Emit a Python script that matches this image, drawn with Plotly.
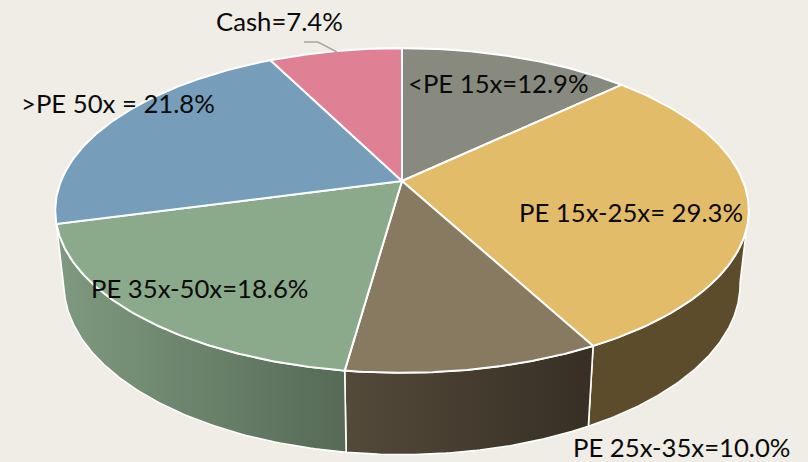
import numpy as np
import plotly.graph_objects as go

# Data, clockwise from 12 o'clock
categories = ["<PE 15x", "PE 15x-25x", "PE 25x-35x", "PE 35x-50x", ">PE 50x", "Cash"]
shares = [12.9, 29.3, 10.0, 18.6, 21.8, 7.4]
label_texts = ["<PE 15x=12.9%", "PE 15x-25x= 29.3%", "PE 25x-35x=10.0%",
               "PE 35x-50x=18.6%", ">PE 50x = 21.8%", "Cash=7.4%"]

# Styles
top_colors = ["#888A80", "#E2BC69", "#877A60", "#8BAA8B", "#769EBA", "#DF8094"]
wall_gradients = {
    1: [[0, "#5C4C2B"], [1, "#5C4C2B"]],
    2: [[0, "#544A3A"], [1, "#372F25"]],
    3: [[0, "#7F9A80"], [1, "#566A56"]],
}
BG = "#EFEDE6"

# Perspective disc geometry, in pixels
CX, K = 402.0, 0.1816
TOP = dict(a=341.0, b=157.0, cy=181.0)
BOTTOM = dict(a=332.5, b=165.0, cy=253.0)
SILHOUETTE_DEG = 100.0

label_x = [408, 519, 573, 91, 21, 216]
label_y = [83, 212, 447, 288, 103, 21]


def project(deg, disc):
    t = np.radians(deg)
    u, v = np.sin(t), np.cos(t)
    w = 1 + K * v
    return CX + disc["a"] * u / w, disc["cy"] - disc["b"] * v / w


edges = np.concatenate([[0], np.cumsum(shares)]) / np.sum(shares) * 360.0
fig = go.Figure()

# Side walls of the front slices
for i, scale in wall_gradients.items():
    start = max(edges[i], SILHOUETTE_DEG)
    arc = np.linspace(start, edges[i + 1], 90)
    xt, yt = project(arc, TOP)
    xb, yb = project(arc[::-1], BOTTOM)
    fig.add_trace(go.Scatter(
        x=np.r_[xt, xb, xt[0]], y=np.r_[yt, yb, yt[0]], mode="lines", fill="toself",
        fillgradient=dict(type="horizontal", colorscale=scale),
        line=dict(color="white", width=1.6), hoverinfo="skip", showlegend=False,
    ))

# Top face slices
for i, name in enumerate(categories):
    arc = np.linspace(edges[i], edges[i + 1], 120)
    xt, yt = project(arc, TOP)
    cx0, cy0 = project(np.array([90.0]), dict(a=0.0, b=0.0, cy=TOP["cy"]))
    fig.add_trace(go.Scatter(
        x=np.r_[cx0, xt, cx0], y=np.r_[cy0, yt, cy0], mode="lines", fill="toself",
        fillcolor=top_colors[i], line=dict(color="white", width=2),
        name=name, showlegend=False,
    ))

# Leader line of the Cash label
fig.add_trace(go.Scatter(x=[304, 318, 337], y=[42, 42, 52], mode="lines",
                         line=dict(color="#A8A8A4", width=1.5),
                         hoverinfo="skip", showlegend=False))

for text, x, y in zip(label_texts, label_x, label_y):
    fig.add_annotation(x=x, y=y, text=text, showarrow=False, xanchor="left", yanchor="middle",
                       xshift=-2, font=dict(family="Lato, Carlito, sans-serif", size=25.7, color="#0A0A0A"))

fig.update_layout(
    width=808, height=462, margin=dict(l=0, r=0, t=0, b=0),
    paper_bgcolor=BG, plot_bgcolor=BG, showlegend=False,
    xaxis=dict(range=[0, 808], visible=False, fixedrange=True),
    yaxis=dict(range=[462, 0], visible=False, fixedrange=True),
)
fig.write_html("out.html", config={"displayModeBar": False},
               post_script="document.body.style.margin='0';document.body.style.overflow='hidden';document.body.style.background='%s';" % BG)
